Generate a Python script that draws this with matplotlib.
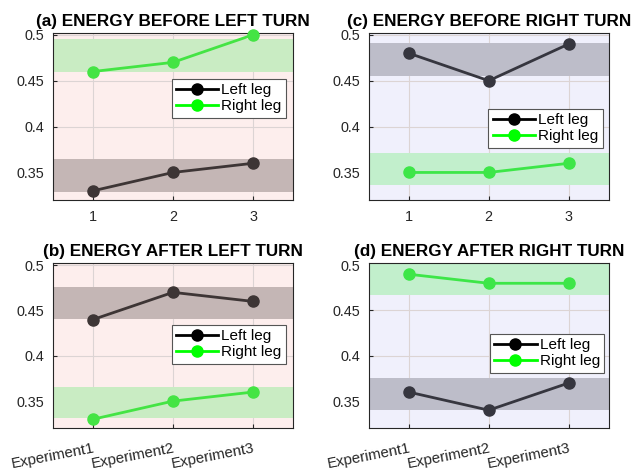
import matplotlib.pyplot as plt
from matplotlib import font_manager as fm

# keep the regular Liberation Sans, not the Narrow cut
fm.fontManager.ttflist = [f for f in fm.fontManager.ttflist if "Narrow" not in f.fname]
plt.rcParams['font.family'] = ['Liberation Sans', 'DejaVu Sans']

# Data
experiments = [1, 2, 3]
exp_labels = ["Experiment1", "Experiment2", "Experiment3"]
titles = ["(a) ENERGY BEFORE LEFT TURN", "(b) ENERGY AFTER LEFT TURN",
          "(c) ENERGY BEFORE RIGHT TURN", "(d) ENERGY AFTER RIGHT TURN"]
left_leg = [
    [0.33, 0.35, 0.36],
    [0.44, 0.47, 0.46],
    [0.48, 0.45, 0.49],
    [0.36, 0.34, 0.37],
]
right_leg = [
    [0.46, 0.47, 0.50],
    [0.33, 0.35, 0.36],
    [0.35, 0.35, 0.36],
    [0.49, 0.48, 0.48],
]
# shaded bands (low, high)
left_band = [(0.329, 0.365), (0.441, 0.476), (0.455, 0.491), (0.340, 0.376)]
right_band = [(0.459, 0.495), (0.331, 0.366), (0.336, 0.371), (0.467, 0.505)]

bg_colors = ["#fdeeed", "#fdeeed", "#f0f0fc", "#f0f0fc"]
gray_band = ["#c4b6b5", "#c4b6b5", "#bdbdc9", "#bdbdc9"]
green_band = ["#c9ecc3", "#c9ecc3", "#c2efcc", "#c2efcc"]
dark_line = ["#3d3535", "#3d3535", "#36363f", "#36363f"]
green_line = ["#44e444", "#44e444", "#3de648", "#3de648"]

fig = plt.figure(figsize=(6.36, 4.70), dpi=100)
positions = [
    [0.0833, 0.5745, 0.3774, 0.3553],
    [0.0833, 0.0887, 0.3774, 0.3510],
    [0.5797, 0.5745, 0.3774, 0.3553],
    [0.5797, 0.0887, 0.3774, 0.3510],
]
legend_anchor = [(0.971, 0.61), (0.971, 0.51), (0.975, 0.43), (0.982, 0.455)]

for i in range(4):
    ax = fig.add_axes(positions[i])
    ax.set_facecolor(bg_colors[i])
    ax.axhspan(left_band[i][0], left_band[i][1], color=gray_band[i], zorder=1, lw=0)
    ax.axhspan(right_band[i][0], right_band[i][1], color=green_band[i], zorder=1, lw=0)
    ax.plot(experiments, left_leg[i], "-o", color=dark_line[i], lw=2, ms=8, zorder=3, clip_on=False)
    ax.plot(experiments, right_leg[i], "-o", color=green_line[i], lw=2, ms=8, zorder=3, clip_on=False)
    # legend with pure colours like the reference
    h1, = ax.plot([], [], "-o", color="black", lw=2, ms=8)
    h2, = ax.plot([], [], "-o", color="#00ff00", lw=2, ms=8)
    leg = ax.legend([h1, h2], ["Left leg", "Right leg"], loc="center right",
                    bbox_to_anchor=legend_anchor[i], fontsize=11, fancybox=False,
                    handlelength=2.75, handletextpad=0.2, borderpad=0.3,
                    labelspacing=0.12, borderaxespad=0)
    leg.get_frame().set_edgecolor("#555555")
    leg.get_frame().set_linewidth(0.8)
    leg.get_frame().set_facecolor("white")
    leg.get_frame().set_alpha(1)

    ax.set_xlim(0.5, 3.5)
    ax.set_ylim(0.32, 0.502)
    ax.set_yticks([0.35, 0.4, 0.45, 0.5])
    ax.set_yticklabels(["0.35", "0.4", "0.45", "0.5"])
    ax.set_xticks(experiments)
    ax.grid(True, color="#dcd4d4", lw=0.8, zorder=0)
    ax.set_axisbelow(True)
    ax.tick_params(direction="in", length=3, labelsize=10.4, colors="#262626", pad=6)
    if i in (1, 3):
        ax.set_xticklabels(exp_labels, rotation=11, ha="right", va="top",
                           rotation_mode="anchor", fontsize=10.8)
        ax.tick_params(axis="x", pad=9)
    else:
        ax.set_xticklabels(["1", "2", "3"])
        ax.tick_params(axis="x", pad=7)
    for s in ax.spines.values():
        s.set_color("#262626")
        s.set_linewidth(0.8)
    ax.set_title(titles[i], fontsize=12.3, fontweight="bold", pad=5)

fig.savefig("out.png", dpi=100)
